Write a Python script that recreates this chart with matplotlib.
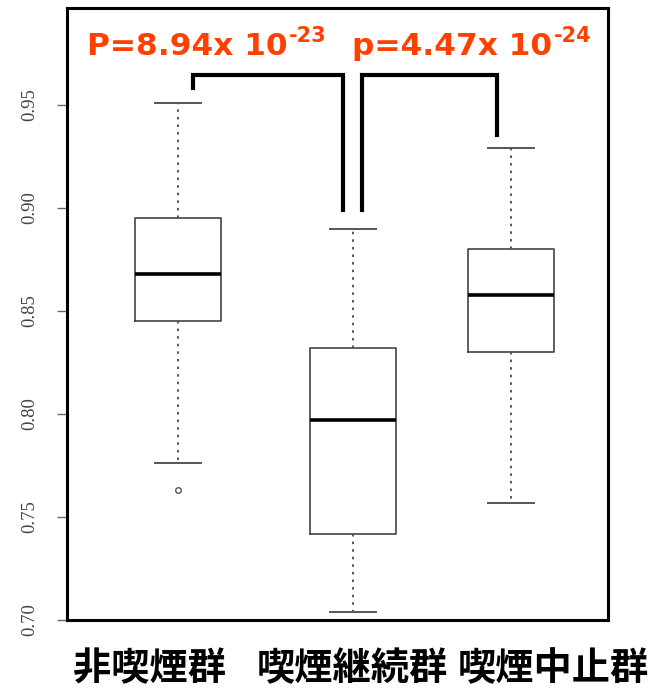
import matplotlib
matplotlib.use("Agg")
import matplotlib.pyplot as plt

# data
groups = ["非喫煙群", "喫煙継続群", "喫煙中止群"]
whisker_low = [0.776, 0.704, 0.757]
q1 = [0.845, 0.742, 0.830]
medians = [0.868, 0.797, 0.858]
q3 = [0.895, 0.832, 0.880]
whisker_high = [0.951, 0.890, 0.929]
outliers = [[0.763], [], []]
p_base = ["P=8.94x 10", "p=4.47x 10"]
p_exp = ["-23", "-24"]
y_ticks = [0.70, 0.75, 0.80, 0.85, 0.90, 0.95]

# layout
positions = [1.116, 2.086, 2.962]
label_x = [0.230, 0.541, 0.848]
p_x = [87, 352]
RED = "#FF4000"
W, H = 652, 689

fig = plt.figure(figsize=(W / 100, H / 100), dpi=100)
ax = fig.add_axes([0.1028, 0.1001, 0.8298, 0.8883])

stats = []
for i, name in enumerate(groups):
    stats.append({
        "label": name,
        "whislo": whisker_low[i],
        "q1": q1[i],
        "med": medians[i],
        "q3": q3[i],
        "whishi": whisker_high[i],
        "fliers": outliers[i],
    })

ax.bxp(
    stats,
    positions=positions,
    widths=0.48,
    capwidths=0.255,
    showfliers=True,
    boxprops=dict(color="#444444", lw=1.2),
    medianprops=dict(color="black", lw=2.6),
    whiskerprops=dict(color="#555555", lw=1.4, linestyle=(0, (1.3, 2.6))),
    capprops=dict(color="#555555", lw=1.4),
    flierprops=dict(marker="o", ms=4, mfc="none", mec="#555555", mew=1.0),
)

ax.set_xlim(0.5, 3.5)
ax.set_ylim(0.70, 0.9971)
ax.set_xticks([])
ax.set_yticks(y_ticks)
ax.set_yticklabels([f"{t:.2f}" for t in y_ticks], rotation=90, va="center",
                   family="Liberation Serif", fontsize=13.5, color="#444444")
ax.tick_params(axis="y", length=7.5, width=1.0, color="#666666", pad=13)
for s in ax.spines.values():
    s.set_linewidth(2.2)
    s.set_color("black")


def to_x(px):
    return 0.5 + (px - 67) / 541 * 3


def to_y(py):
    return 0.70 + (620 - py) / 2060


brackets = [
    (193, 343, 88, 210),
    (362, 497, 210, 135),
]
for xl, xr, yl, yr in brackets:
    ax.plot([to_x(xl), to_x(xl), to_x(xr), to_x(xr)],
            [to_y(yl), to_y(75), to_y(75), to_y(yr)],
            color="black", lw=3.0, solid_joinstyle="miter", clip_on=False)

fig.canvas.draw()
renderer = fig.canvas.get_renderer()
for x0, base, ex in zip(p_x, p_base, p_exp):
    t = fig.text(x0 / W, 1 - 55 / H, base, color=RED, fontsize=22.5,
                 fontweight="bold", ha="left", va="baseline")
    bb = t.get_window_extent(renderer)
    fig.text(bb.x1 / W + 0.002, 1 - 42 / H, ex, color=RED, fontsize=15,
             fontweight="bold", ha="left", va="baseline")

for x, name in zip(label_x, groups):
    fig.text(x, 0.029, name, ha="center", va="center", fontsize=27.5,
             fontweight="bold", family=["Noto Sans CJK JP", "DejaVu Sans"])

fig.savefig("out.png", dpi=100, facecolor="white")
